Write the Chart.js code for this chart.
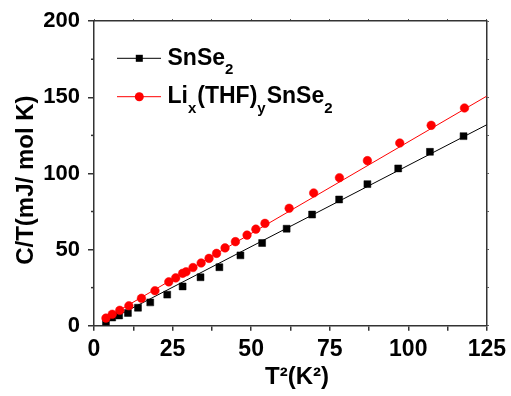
<!DOCTYPE html>
<html>
<head>
<meta charset="utf-8">
<script src="https://cdn.jsdelivr.net/npm/chart.js@4"></script>
<style>
  html, body { margin: 0; padding: 0; background: #ffffff; }
  canvas { display: block; }
</style>
</head>
<body>
<canvas id="c" width="511" height="396"></canvas>
<script>
// ---- data ----
const snse2X = [3.8, 5.8, 8.0, 10.8, 14.0, 17.9, 23.3, 28.2, 33.9, 39.9, 46.6, 53.5, 61.3, 69.4, 78.0, 87.0, 96.8, 106.9, 117.6];
const snse2Y = [2.6, 5.4, 6.7, 8.4, 11.8, 15.3, 20.4, 25.8, 31.8, 38.4, 46.2, 54.3, 63.7, 73.0, 82.9, 93.0, 103.3, 114.2, 124.5];

const lixX = [3.8, 5.8, 8.2, 11.1, 15.1, 19.4, 23.8, 26.0, 28.2, 29.3, 31.5, 34.1, 36.6, 39.0, 41.7, 45.0, 48.7, 51.5, 54.4, 62.1, 69.9, 78.1, 87.0, 97.3, 107.3, 117.9];
const lixY = [5.0, 7.5, 10.1, 13.1, 18.0, 23.0, 28.8, 31.4, 34.4, 35.4, 38.2, 41.2, 44.2, 47.5, 51.1, 55.2, 59.5, 63.4, 67.2, 77.1, 87.2, 97.2, 108.4, 120.0, 131.6, 143.0];

// linear-fit lines (end points)
const snse2FitX = [3.8, 125];
const snse2FitY = [2.6, 132];
const lixFitX = [3.8, 125];
const lixFitY = [5.0, 150.8];

const xTickLabels = [0, 25, 50, 75, 100, 125];
const yTickLabels = [0, 50, 100, 150, 200];

const seriesNames = ['SnSe2', 'Lix(THF)ySnSe2'];

const pts = (xs, ys) => xs.map((x, i) => ({x: x, y: ys[i]}));

const FONT = "'Liberation Sans', Arial, sans-serif";
const AXIS = '#333333';

const minorTicks = {
  id: 'minorTicks',
  afterDraw(chart) {
    const ctx = chart.ctx, y = chart.scales.y, area = chart.chartArea;
    ctx.save();
    ctx.strokeStyle = AXIS;
    ctx.lineWidth = 1.5;
    for (let v = 25; v < 200; v += 50) {
      const p = y.getPixelForValue(v);
      ctx.beginPath();
      ctx.moveTo(area.left - 3, p);
      ctx.lineTo(area.left, p);
      ctx.stroke();
    }
    ctx.restore();
  }
};

const customLegend = {
  id: 'customLegend',
  afterDraw(chart) {
    const ctx = chart.ctx;
    ctx.save();
    const big = 'bold 23px ' + FONT;
    const small = 'bold 15px ' + FONT;
    function drawRich(parts, x, baseline) {
      ctx.fillStyle = '#000';
      ctx.textBaseline = 'alphabetic';
      ctx.textAlign = 'left';
      for (const [txt, sub] of parts) {
        ctx.font = sub ? small : big;
        ctx.fillText(txt, x, sub ? baseline + 9.5 : baseline);
        x += ctx.measureText(txt).width + (sub ? 1 : 0);
      }
    }
    // entry 1
    ctx.strokeStyle = '#000'; ctx.lineWidth = 1;
    ctx.beginPath(); ctx.moveTo(117, 58.3); ctx.lineTo(161, 58.3); ctx.stroke();
    ctx.fillStyle = '#000';
    ctx.fillRect(139.3 - 3.5, 58.3 - 3.5, 7, 7);
    drawRich([['SnSe', false], ['2', true]], 167.5, 64.5);
    // entry 2
    ctx.strokeStyle = '#ff0000';
    ctx.beginPath(); ctx.moveTo(117, 96.7); ctx.lineTo(161, 96.7); ctx.stroke();
    ctx.fillStyle = '#ff0000';
    ctx.beginPath(); ctx.arc(139.3, 96.7, 4.5, 0, Math.PI * 2); ctx.fill();
    drawRich([['Li', false], ['x', true], ['(THF)', false], ['y', true], ['SnSe', false], ['2', true]], 167.5, 103);
    ctx.restore();
  }
};

new Chart(document.getElementById('c'), {
  type: 'scatter',
  data: {
    datasets: [
      { label: seriesNames[0] + ' fit', data: pts(snse2FitX, snse2FitY), showLine: true, borderColor: '#000000', borderWidth: 1, pointRadius: 0, order: 3 },
      { label: seriesNames[1] + ' fit', data: pts(lixFitX, lixFitY), showLine: true, borderColor: '#ff0000', borderWidth: 1, pointRadius: 0, order: 4 },
      { label: seriesNames[0], data: pts(snse2X, snse2Y), pointStyle: 'rect', pointRadius: 4.9, pointBorderWidth: 0.5, backgroundColor: '#000000', borderColor: '#000000', order: 2 },
      { label: seriesNames[1], data: pts(lixX, lixY), pointStyle: 'circle', pointRadius: 4.3, pointBorderWidth: 0.5, backgroundColor: '#ff0000', borderColor: '#ff0000', order: 1 }
    ]
  },
  options: {
    responsive: false,
    devicePixelRatio: 1,
    animation: false,
    layout: { padding: 0 },
    plugins: { legend: { display: false }, tooltip: { enabled: false } },
    scales: {
      x: {
        type: 'linear', position: 'bottom', min: 0, max: 125,
        afterFit(s) { s.height = 70.3; },
        border: { display: true, color: AXIS, width: 1.5 },
        grid: { drawOnChartArea: false, drawTicks: true, tickLength: 5, color: AXIS, lineWidth: 1.5 },
        ticks: {
          stepSize: 12.5, autoSkip: false, maxRotation: 0, padding: 5, color: '#000',
          font: { family: FONT, size: 23, weight: 'bold' },
          callback: v => xTickLabels.includes(v) ? String(v) : ''
        },
        title: { display: true, text: '  T²(K²)', color: '#000', font: { family: FONT, size: 24, weight: 'bold' }, padding: { top: 0, bottom: 4 } }
      },
      y: {
        type: 'linear', position: 'left', min: 0, max: 200,
        afterFit(s) { s.width = 94; },
        border: { display: true, color: AXIS, width: 1.5 },
        grid: { drawOnChartArea: false, drawTicks: true, tickLength: 6, lineWidth: 1.5,
                color: c => (c.tick && yTickLabels.includes(c.tick.value)) ? AXIS : 'rgba(0,0,0,0)' },
        ticks: {
          stepSize: 25, autoSkip: false, padding: 8, color: '#000',
          font: { family: FONT, size: 22, weight: 'bold' },
          callback: v => yTickLabels.includes(v) ? String(v) : ''
        },
        title: { display: true, text: 'C/T(mJ/ mol K)  ', color: '#000', font: { family: FONT, size: 24, weight: 'bold' }, padding: { top: 12, bottom: 0 } }
      },
      x2: {
        type: 'linear', position: 'top', min: 0, max: 125,
        afterFit(s) { s.height = 15; },
        border: { display: true, color: AXIS, width: 1.5 },
        grid: { drawOnChartArea: false, drawTicks: true, tickLength: 2, color: AXIS, lineWidth: 1 },
        ticks: { stepSize: 12.5, display: false }
      },
      y2: {
        type: 'linear', position: 'right', min: 0, max: 200,
        afterFit(s) { s.width = 21.7; },
        border: { display: true, color: AXIS, width: 1.5 },
        grid: { drawOnChartArea: false, drawTicks: true, tickLength: 2, color: AXIS, lineWidth: 1 },
        ticks: { stepSize: 25, display: false }
      }
    }
  },
  plugins: [minorTicks, customLegend]
});
</script>
</body>
</html>
